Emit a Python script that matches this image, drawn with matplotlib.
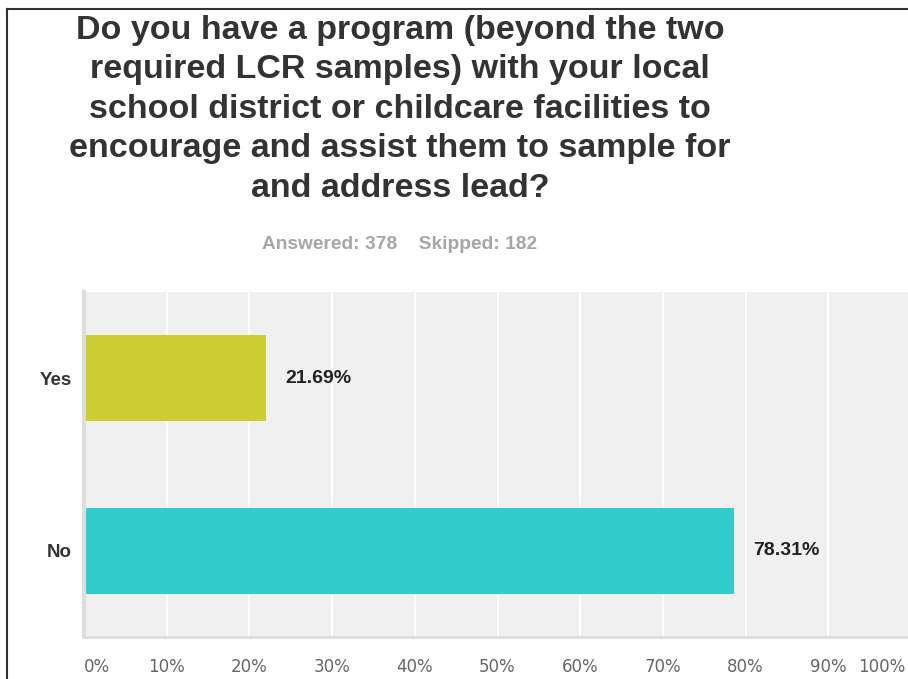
import matplotlib
matplotlib.use("Agg")
import matplotlib.pyplot as plt
import matplotlib.transforms as mtransforms
from matplotlib.lines import Line2D

title_lines = ["Do you have a program (beyond the two",
               "required LCR samples) with your local",
               "school district or childcare facilities to",
               "encourage and assist them to sample for",
               "and address lead?"]
subtitle = "Answered: 378    Skipped: 182"
categories = ["Yes", "No"]
values = [21.69, 78.31]
bar_colors = ["#cccc33", "#33cccc"]
tick_values = [0, 10, 20, 30, 40, 50, 60, 70, 80, 90, 100]
tick_labels = ["0%", "10%", "20%", "30%", "40%", "50%", "60%", "70%",
               "80%", "90%", "100%"]

W, H = 908, 679
fig = plt.figure(figsize=(W / 100, H / 100), dpi=100)

# frame lines (top and left)
fig.add_artist(Line2D([7 / W, 7 / W], [0, 1 - 9 / H], color="#333333", lw=1.5))
fig.add_artist(Line2D([7 / W, 1], [1 - 9 / H, 1 - 9 / H], color="#333333", lw=1.5))

fig.text(400 / W, 1 - 15 / H, "\n".join(title_lines), ha="center", va="top",
         fontsize=24.5, fontweight="bold", color="#333333",
         family="Liberation Sans", linespacing=1.35)
fig.text(400 / W, 1 - 244 / H, subtitle, ha="center", va="center",
         fontsize=13.8, fontweight="bold", color="#a6a6a6",
         family="Liberation Sans")

ax = fig.add_axes([84 / W, (H - 637) / H, (911 - 84) / W, 345 / H])
ax.set_facecolor("#f0f0f0")
ax.set_xlim(0, 100)
ax.set_ylim(1.5, -0.5)
ax.set_xticks(tick_values)
ax.grid(axis="x", color="white", lw=1.5)
ax.set_axisbelow(True)

ypos = list(range(len(categories)))
ax.barh(ypos, values, height=0.5, color=bar_colors, left=0.3)
for y, v in zip(ypos, values):
    ax.text(v + 2.6, y, "%.2f%%" % v, ha="left", va="center",
            fontsize=14, fontweight="bold", color="#222222",
            family="Liberation Sans")

ax.set_yticks(ypos)
ax.set_yticklabels(categories, fontsize=13.5, fontweight="bold",
                   color="#333333", family="Liberation Sans")
ax.set_xticklabels(tick_labels, fontsize=12, color="#666666",
                   family="DejaVu Sans")
ax.tick_params(axis="y", length=0, pad=9)
ax.tick_params(axis="x", length=0, pad=15)

labels = ax.get_xticklabels()
labels[0].set_ha("left")
labels[-1].set_ha("right")
labels[-1].set_transform(labels[-1].get_transform() +
                         mtransforms.ScaledTranslation(-6 / 100, 0, fig.dpi_scale_trans))

for side in ["top", "right"]:
    ax.spines[side].set_visible(False)
ax.spines["left"].set_color("#dddddd")
ax.spines["left"].set_linewidth(3)
ax.spines["bottom"].set_color("#dddddd")
ax.spines["bottom"].set_linewidth(2)

fig.savefig("out.png", dpi=100)
